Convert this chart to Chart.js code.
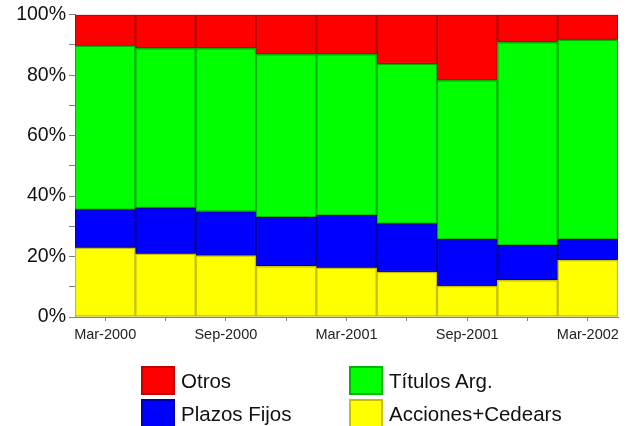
<!DOCTYPE html>
<html>
<head>
<meta charset="utf-8">
<script src="https://cdn.jsdelivr.net/npm/chart.js@4"></script>
<style>
  body { margin: 0; background: #fff; }
  #wrap { position: relative; width: 631px; height: 426px; overflow: hidden; }
  #legend { position: absolute; left: 0; top: 0; }
  .item { position: absolute; display: flex; align-items: center; height: 29px; white-space: nowrap;
          font-family: "Liberation Sans", Arial, sans-serif; font-size: 20.5px; color: #111; }
  .box { width: 30px; height: 25px; border: 2px solid; margin-right: 6px; flex: none; }
</style>
</head>
<body>
<div id="wrap">
  <canvas id="myChart" width="631" height="426"></canvas>
  <div id="legend"></div>
</div>
<script>
// datos trimestrales (% del total)
const categorias = ['Mar-2000', 'Jun-2000', 'Sep-2000', 'Dec-2000', 'Mar-2001', 'Jun-2001', 'Sep-2001', 'Dec-2001', 'Mar-2002'];
const acciones = [22.9, 20.9, 20.3, 16.8, 16.3, 14.9, 10.2, 12.1, 18.8];
const plazos   = [12.6, 15.2, 14.6, 16.2, 17.3, 16.0, 15.5, 11.6, 6.9];
const titulos  = [54.2, 52.8, 54.0, 53.9, 53.3, 52.8, 52.6, 67.2, 66.0];
const otros    = [10.3, 11.1, 11.1, 13.1, 13.1, 16.3, 21.7, 9.1, 8.3];
const ticksY = [0, 20, 40, 60, 80, 100];

function serie(label, data, color, borde) {
    return {
        label: label,
        data: data,
        backgroundColor: color,
        borderColor: borde,
        borderWidth: 1.5,
        borderSkipped: false,
        barPercentage: 1,
        categoryPercentage: 1
    };
}

const datasets = [
    serie('Acciones+Cedears', acciones, '#ffff00', '#c8c000'),
    serie('Plazos Fijos', plazos, '#0000ff', '#0000a8'),
    serie('Títulos Arg.', titulos, '#00ff00', '#00b400'),
    serie('Otros', otros, '#ff0000', '#c00000')
];

const ctx = document.getElementById('myChart').getContext('2d');
new Chart(ctx, {
    type: 'bar',
    data: { labels: categorias, datasets: datasets },
    options: {
        responsive: false,
        animation: false,
        layout: { padding: { left: 0, right: 13, top: 14, bottom: 69 } },
        plugins: { legend: { display: false }, tooltip: { enabled: false } },
        scales: {
            x: {
                stacked: true,
                offset: true,
                grid: { drawOnChartArea: false, offset: false, tickLength: 4, color: '#808080' },
                border: { color: '#808080' },
                ticks: {
                    autoSkip: false,
                    maxRotation: 0,
                    padding: 5,
                    color: '#222',
                    font: { family: "'Liberation Sans', Arial", size: 14.5 },
                    callback: function(v, i) { return i % 2 === 0 ? categorias[i] : ''; }
                },
                afterFit: function(scale) { scale.height = 40; }
            },
            y: {
                stacked: true,
                min: 0,
                max: 100,
                grid: { drawOnChartArea: false, tickLength: 6, color: '#808080' },
                border: { color: '#808080' },
                ticks: {
                    stepSize: 10,
                    padding: 3,
                    color: '#111',
                    font: { family: "'Liberation Sans', Arial", size: 19.5 },
                    callback: function(v) { return ticksY.includes(v) ? v + '%' : ''; }
                },
                afterFit: function(scale) { scale.width = 75; }
            }
        }
    }
});

// leyenda en dos columnas
const orden = [3, 2, 1, 0];
const posiciones = [[141, 366], [349, 366], [141, 399], [349, 399]];
const legend = document.getElementById('legend');
orden.forEach(function(idx, k) {
    const ds = datasets[idx];
    const item = document.createElement('div');
    item.className = 'item';
    item.style.left = posiciones[k][0] + 'px';
    item.style.top = posiciones[k][1] + 'px';
    item.innerHTML = '<div class="box" style="background:' + ds.backgroundColor + ';border-color:' + ds.borderColor + '"></div><span>' + ds.label + '</span>';
    legend.appendChild(item);
});
</script>
</body>
</html>
